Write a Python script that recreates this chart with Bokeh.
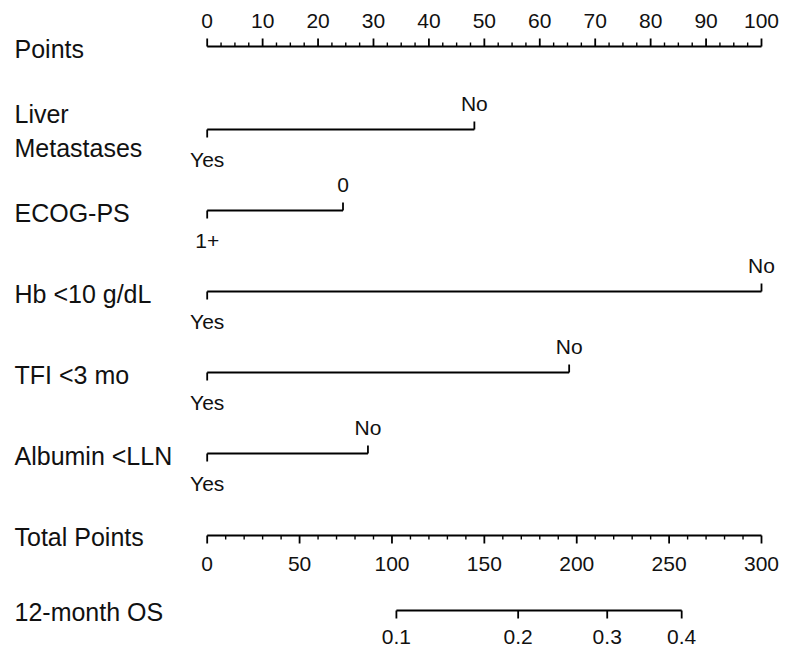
from bokeh.plotting import figure
from bokeh.models import Range1d
from bokeh.embed import file_html
from bokeh.resources import INLINE
from bokeh.core.properties import value

# ---------------- data ----------------
point_ticks = [0, 10, 20, 30, 40, 50, 60, 70, 80, 90, 100]
point_minor_step = 2.5
variables = ["Liver\nMetastases", "ECOG-PS", "Hb <10 g/dL", "TFI <3 mo", "Albumin <LLN"]
low_levels = ["Yes", "1+", "Yes", "Yes", "Yes"]
high_levels = ["No", "0", "No", "No", "No"]
low_points = [0, 0, 0, 0, 0]
high_points = [48.2, 24.5, 100, 65.3, 29.0]
total_ticks = [0, 50, 100, 150, 200, 250, 300]
total_minor_step = 10
total_max = 300
os_labels = ["0.1", "0.2", "0.3", "0.4"]
os_total_points = [102.4, 168.3, 216.5, 256.8]

# ---------------- layout ----------------
W, H = 784, 649
X0, X100 = 206.7, 761.0    # picture x of 0 and 100 points
pps = (X100 - X0) / 100.0  # pixels per point


def px(pic_x):
    return (pic_x - X0) / pps


FONT = value("Liberation Sans")
COL = "#111111"
LBL = 25
TCK = 21
LW = 1.8

p = figure(width=W, height=H, output_backend="svg", toolbar_location=None,
           x_range=Range1d(px(0), px(W)), y_range=Range1d(H, 0),
           min_border=0, outline_line_color=None,
           x_axis_location=None, y_axis_location=None)
p.grid.visible = False
p.background_fill_color = "white"
p.border_fill_color = "white"


def label(x, y, txt, size, align="left"):
    p.text(x=[x], y=[y], text=[txt], text_font=FONT, text_font_size=f"{size}px",
           text_align=align, text_baseline="middle", text_color=COL)


LEFT = px(14)

# Points axis
y_pts = 46
p.segment(x0=[0], y0=[y_pts], x1=[100], y1=[y_pts], line_color="black", line_width=LW)
p.segment(x0=point_ticks, y0=[y_pts] * len(point_ticks), x1=point_ticks,
          y1=[y_pts - 8] * len(point_ticks), line_color="black", line_width=LW)
minor = []
v = 0.0
while v < 100:
    if v % 10:
        minor.append(v)
    v += point_minor_step
p.segment(x0=minor, y0=[y_pts] * len(minor), x1=minor, y1=[y_pts - 4] * len(minor),
          line_color="black", line_width=1.4)
p.text(x=point_ticks, y=[y_pts - 26] * len(point_ticks), text=[str(t) for t in point_ticks],
       text_font=FONT, text_font_size=f"{TCK}px", text_align="center",
       text_baseline="middle", text_color=COL)
label(LEFT, y_pts + 2, "Points", LBL)

# Variable rows
row_y = [129, 210, 291, 372, 453]
for name, lo_l, hi_l, lo_p, hi_p, y in zip(variables, low_levels, high_levels,
                                            low_points, high_points, row_y):
    p.segment(x0=[lo_p], y0=[y], x1=[hi_p], y1=[y], line_color="black", line_width=LW)
    p.segment(x0=[lo_p], y0=[y], x1=[lo_p], y1=[y + 8], line_color="black", line_width=LW)
    p.segment(x0=[hi_p], y0=[y], x1=[hi_p], y1=[y - 8], line_color="black", line_width=LW)
    label(hi_p, y - 26, hi_l, TCK, "center")
    label(lo_p, y + 30, lo_l, TCK, "center")
    parts = name.split("\n")
    if len(parts) == 1:
        label(LEFT, y + 2, parts[0], LBL)
    else:
        label(LEFT, y - 16, parts[0], LBL)
        label(LEFT, y + 18, parts[1], LBL)

# Total points axis
y_tot = 535
scale = 100.0 / total_max
tt = [t * scale for t in total_ticks]
p.segment(x0=[0], y0=[y_tot], x1=[total_max * scale], y1=[y_tot], line_color="black", line_width=LW)
p.segment(x0=tt, y0=[y_tot] * len(tt), x1=tt, y1=[y_tot + 8] * len(tt),
          line_color="black", line_width=LW)
tminor = [v * scale for v in range(0, total_max, total_minor_step) if v % 50]
p.segment(x0=tminor, y0=[y_tot] * len(tminor), x1=tminor, y1=[y_tot + 4] * len(tminor),
          line_color="black", line_width=1.4)
p.text(x=tt, y=[y_tot + 28] * len(tt), text=[str(t) for t in total_ticks],
       text_font=FONT, text_font_size=f"{TCK}px", text_align="center",
       text_baseline="middle", text_color=COL)
label(LEFT, y_tot + 1, "Total Points", LBL)

# 12-month OS axis
y_os = 610
ot = [t * scale for t in os_total_points]
p.segment(x0=[ot[0]], y0=[y_os], x1=[ot[-1]], y1=[y_os], line_color="black", line_width=LW)
p.segment(x0=ot, y0=[y_os] * len(ot), x1=ot, y1=[y_os + 8] * len(ot),
          line_color="black", line_width=LW)
p.text(x=ot, y=[y_os + 26] * len(ot), text=os_labels,
       text_font=FONT, text_font_size=f"{TCK}px", text_align="center",
       text_baseline="middle", text_color=COL)
label(LEFT, y_os + 1, "12-month OS", LBL)

open("out.html", "w").write(file_html(p, INLINE))
